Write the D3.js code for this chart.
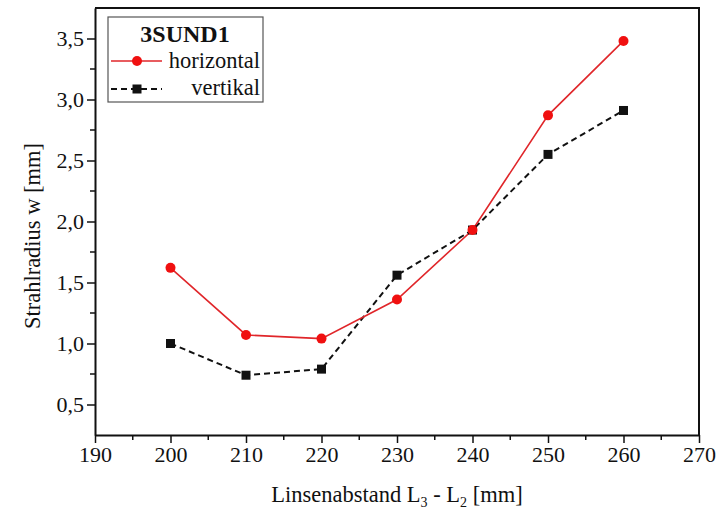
<!DOCTYPE html>
<html>
<head>
<meta charset="utf-8">
<script src="https://cdn.jsdelivr.net/npm/d3@7"></script>
<style>
  html, body { margin: 0; padding: 0; background: #fff; }
  svg text { font-family: "Liberation Serif", "Times New Roman", serif; fill: #111; }
</style>
</head>
<body>
<svg id="chart" width="728" height="512"></svg>
<script>
// Lens distance L3 - L2 in mm
const distances = [200, 210, 220, 230, 240, 250, 260];
// Beam radius w in mm
const horizontal = [1.62, 1.07, 1.04, 1.36, 1.93, 2.87, 3.48];
const vertikal = [1.00, 0.74, 0.79, 1.56, 1.93, 2.55, 2.91];
const xTicks = [190, 200, 210, 220, 230, 240, 250, 260, 270];
const yTicks = [0.5, 1.0, 1.5, 2.0, 2.5, 3.0, 3.5];
const legendTitle = "3SUND1";

const svg = d3.select("#chart");
const m = { left: 95, right: 699, top: 8, bottom: 435 };
const tickFont = 22, titleFont = 22.5, legendFont = 22.5;

const x = d3.scaleLinear().domain([190, 270]).range([m.left, m.right]);
const y = d3.scaleLinear().domain([0.25, 3.75]).range([m.bottom, m.top]);
const fmt = d => d.toFixed(1).replace(".", ",");

// Minor ticks (outward, shorter)
const xMinor = d3.range(195, 270, 10);
const yMinor = d3.range(0.25, 3.75, 0.5).filter(v => v > 0.26);

svg.append("g").selectAll("line").data(xMinor).join("line")
  .attr("x1", d => x(d)).attr("x2", d => x(d))
  .attr("y1", m.bottom).attr("y2", m.bottom + 5)
  .attr("stroke", "#111").attr("stroke-width", 1.5);
svg.append("g").selectAll("line").data(yMinor).join("line")
  .attr("y1", d => y(d)).attr("y2", d => y(d))
  .attr("x1", m.left).attr("x2", m.left - 5)
  .attr("stroke", "#111").attr("stroke-width", 1.5);

// X axis
const gx = svg.append("g").attr("transform", `translate(0,${m.bottom})`)
  .call(d3.axisBottom(x).tickValues(xTicks).tickSize(8).tickSizeOuter(0).tickPadding(3));
gx.select(".domain").attr("stroke-width", 2).attr("stroke", "#111");
gx.selectAll(".tick line").attr("stroke-width", 1.5).attr("stroke", "#111");
gx.selectAll("text").attr("font-size", tickFont).attr("font-family", "Liberation Serif").attr("fill", "#111");

// Y axis
const gy = svg.append("g").attr("transform", `translate(${m.left},0)`)
  .call(d3.axisLeft(y).tickValues(yTicks).tickFormat(fmt).tickSize(8).tickSizeOuter(0).tickPadding(3));
gy.select(".domain").attr("stroke-width", 2).attr("stroke", "#111");
gy.selectAll(".tick line").attr("stroke-width", 1.5).attr("stroke", "#111");
gy.selectAll("text").attr("font-size", tickFont).attr("font-family", "Liberation Serif").attr("fill", "#111");

// Top and right frame
svg.append("path")
  .attr("d", `M${m.left},${m.top}H${m.right}V${m.bottom}`)
  .attr("fill", "none").attr("stroke", "#111").attr("stroke-width", 2);

// Axis titles
const xt = svg.append("text").attr("x", x(230)).attr("y", 502)
  .attr("text-anchor", "middle").attr("font-size", titleFont);
xt.append("tspan").text("Linsenabstand L");
xt.append("tspan").attr("font-size", 14).attr("dy", 5).text("3");
xt.append("tspan").attr("dy", -5).text(" - L");
xt.append("tspan").attr("font-size", 14).attr("dy", 5).text("2");
xt.append("tspan").attr("dy", -5).text(" [mm]");

svg.append("text")
  .attr("transform", `translate(40,236) rotate(-90)`)
  .attr("text-anchor", "middle").attr("font-size", titleFont)
  .text("Strahlradius w [mm]");

// Series
const ptsH = distances.map((d, i) => [d, horizontal[i]]);
const ptsV = distances.map((d, i) => [d, vertikal[i]]);
const line = d3.line().x(d => x(d[0])).y(d => y(d[1]));

svg.append("path").datum(ptsV).attr("d", line)
  .attr("fill", "none").attr("stroke", "#111").attr("stroke-width", 2)
  .attr("stroke-dasharray", "6,4");
svg.append("path").datum(ptsH).attr("d", line)
  .attr("fill", "none").attr("stroke", "#e0262a").attr("stroke-width", 1.6);

const sq = 9;
svg.append("g").selectAll("rect").data(ptsV).join("rect")
  .attr("x", d => x(d[0]) - sq / 2).attr("y", d => y(d[1]) - sq / 2)
  .attr("width", sq).attr("height", sq).attr("fill", "#111");
svg.append("g").selectAll("circle").data(ptsH).join("circle")
  .attr("cx", d => x(d[0])).attr("cy", d => y(d[1])).attr("r", 5)
  .attr("fill", "#f01010");

// Legend
const lg = svg.append("g");
lg.append("rect").attr("x", 108).attr("y", 17).attr("width", 155).attr("height", 85)
  .attr("fill", "#fff").attr("stroke", "#555").attr("stroke-width", 1.2);
lg.append("text").attr("x", 185).attr("y", 42).attr("text-anchor", "middle")
  .attr("font-size", 24).attr("font-weight", "bold").text(legendTitle);

lg.append("line").attr("x1", 111).attr("x2", 162).attr("y1", 61).attr("y2", 61)
  .attr("stroke", "#e0262a").attr("stroke-width", 1.6);
lg.append("circle").attr("cx", 137).attr("cy", 61).attr("r", 5).attr("fill", "#f01010");
lg.append("text").attr("x", 260).attr("y", 68).attr("text-anchor", "end")
  .attr("font-size", legendFont).text("horizontal");

lg.append("line").attr("x1", 111).attr("x2", 162).attr("y1", 89).attr("y2", 89)
  .attr("stroke", "#111").attr("stroke-width", 2).attr("stroke-dasharray", "6,4");
lg.append("rect").attr("x", 137 - sq / 2).attr("y", 89 - sq / 2).attr("width", sq).attr("height", sq)
  .attr("fill", "#111");
lg.append("text").attr("x", 260).attr("y", 95).attr("text-anchor", "end")
  .attr("font-size", legendFont).text("vertikal");
</script>
</body>
</html>
